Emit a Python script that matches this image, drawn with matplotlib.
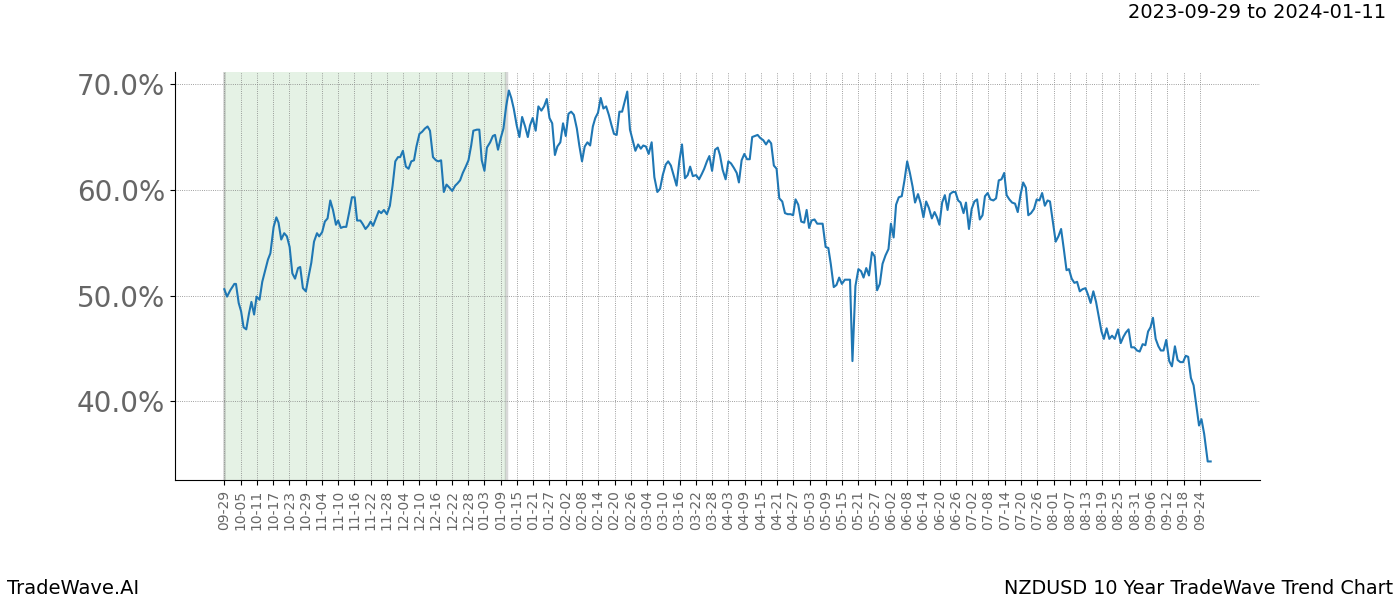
import matplotlib
matplotlib.use('Agg')
import matplotlib.pyplot as plt
from matplotlib.ticker import FuncFormatter

# day index (0 = 2023-09-29) and trend value in percent
days = [
    0.0, 1.0, 2.2, 3.7, 4.3, 5.3, 6.2, 7.1, 8.1, 9.1, 10.0, 11.0, 11.9, 13.0, 14.0, 15.1, 16.1, 17.0,
    18.2, 19.2, 20.0, 21.0, 22.1, 23.1, 24.1, 25.1, 26.1, 27.2, 28.0, 29.0, 30.1, 31.1, 32.1, 33.1,
    34.2, 35.0, 36.1, 37.1, 38.1, 39.1, 40.1, 41.2, 42.0, 43.0, 44.0, 45.0, 46.1, 47.1, 48.1, 49.0,
    50.2, 51.0, 52.1, 53.1, 54.0, 54.9, 56.1, 57.0, 57.9, 58.9, 60.0, 61.1, 62.1, 63.1, 64.1, 64.9,
    65.9, 67.0, 68.0, 69.0, 70.0, 70.9, 72.0, 73.0, 74.0, 75.0, 75.9, 77.0, 78.1, 79.0, 80.0, 81.0,
    82.0, 83.1, 84.1, 85.2, 86.0, 87.0, 88.0, 89.1, 90.1, 91.1, 91.9, 93.2, 94.1, 95.0, 96.0, 96.9,
    98.1, 99.1, 99.9, 101.0, 102.0, 103.0, 104.0, 105.0, 105.9, 106.8, 107.9, 108.9, 109.9, 111.0,
    112.0, 112.8, 113.8, 114.9, 115.9, 117.0, 118.0, 119.0, 120.0, 121.0, 122.0, 122.9, 124.0, 125.0,
    126.0, 127.0, 128.0, 129.0, 130.1, 131.0, 132.0, 133.0, 134.0, 135.0, 136.0, 136.9, 137.9, 138.9,
    139.9, 140.9, 141.9, 142.8, 143.8, 144.8, 145.8, 146.8, 147.8, 148.7, 149.7, 150.7, 151.7, 152.7,
    153.7, 154.6, 155.6, 156.6, 157.7, 158.7, 159.8, 160.8, 161.8, 162.9, 163.8, 164.8, 165.8, 166.9,
    167.9, 168.9, 170.0, 171.0, 171.9, 172.9, 174.1, 175.2, 176.2, 177.1, 178.1, 179.0, 180.0, 181.1,
    182.1, 182.9, 183.9, 185.0, 186.0, 187.0, 188.0, 189.1, 189.9, 190.9, 191.9, 192.9, 193.9, 194.8,
    195.8, 196.8, 197.8, 198.9, 199.9, 200.9, 201.8, 202.8, 203.8, 204.8, 205.9, 206.9, 207.9, 209.0,
    209.9, 210.8, 211.8, 212.9, 214.0, 214.9, 215.8, 216.7, 217.8, 218.8, 219.8, 220.8, 221.9, 222.9,
    223.8, 224.9, 225.9, 226.9, 227.9, 229.0, 230.0, 230.9, 231.8, 232.9, 234.0, 235.0, 235.9, 236.9,
    237.9, 239.0, 240.0, 240.9, 241.9, 242.9, 244.0, 245.1, 246.0, 247.0, 247.9, 248.9, 250.0, 251.0,
    252.0, 253.0, 254.0, 254.9, 256.0, 257.0, 258.0, 259.0, 260.0, 261.1, 262.1, 263.0, 263.9, 264.9,
    265.9, 266.9, 267.8, 268.8, 269.8, 270.8, 271.7, 272.8, 273.7, 274.8, 275.8, 276.8, 277.8, 278.8,
    279.8, 280.7, 281.7, 282.7, 283.8, 284.8, 285.8, 286.8, 287.8, 288.7, 289.7, 290.7, 291.8, 292.8,
    293.8, 294.8, 295.8, 296.7, 297.7, 298.8, 299.8, 300.8, 301.8, 302.8, 303.8, 304.7, 305.7, 306.8,
    307.8, 308.8, 309.8, 310.8, 311.7, 312.7, 313.7, 314.7, 315.7, 316.7, 317.8, 318.7, 319.7, 320.7,
    321.7, 322.7, 323.7, 324.6, 325.6, 326.6, 327.6, 328.6, 329.8, 330.8, 331.8, 332.7, 333.7, 334.7,
    335.8, 336.8, 337.8, 338.9, 339.9, 340.9, 341.8, 342.7, 343.7, 344.7, 345.6, 346.6, 347.6, 348.7,
    349.7, 350.8, 351.8, 352.8, 353.8, 354.8, 355.7, 356.7, 357.7, 358.7, 359.7, 360.6, 361.6, 362.9,
    364.0,
]
values = [
    50.6, 49.9, 50.5, 51.1, 51.1, 49.3, 48.5, 47.0, 46.8, 48.3, 49.4, 48.2, 49.9, 49.6, 51.3, 52.4, 53.4, 54.0,
    56.5, 57.4, 56.9, 55.3, 55.9, 55.6, 54.6, 52.1, 51.6, 52.6, 52.7, 50.7, 50.4, 51.8, 53.1, 55.1,
    55.9, 55.6, 56.0, 57.0, 57.3, 59.0, 58.1, 56.7, 57.1, 56.4, 56.5, 56.5, 57.9, 59.3, 59.3, 57.1,
    57.1, 56.8, 56.3, 56.6, 57.0, 56.6, 57.4, 58.0, 57.8, 58.1, 57.7, 58.5, 60.4, 62.7, 63.1, 63.1,
    63.7, 62.2, 62.0, 62.7, 62.8, 64.1, 65.3, 65.5, 65.8, 66.0, 65.6, 63.1, 62.8, 62.7, 62.8, 59.8,
    60.5, 60.2, 59.9, 60.4, 60.6, 60.9, 61.6, 62.2, 62.8, 64.2, 65.6, 65.7, 65.7, 62.8, 61.8, 64.0,
    64.5, 65.1, 65.2, 63.8, 64.9, 65.8, 67.9, 69.4, 68.7, 67.7, 66.1, 65.0, 66.9, 66.0,
    65.0, 66.1, 66.8, 65.6, 67.9, 67.5, 67.9, 68.6, 66.8, 66.3, 63.3, 64.1, 64.5, 66.3,
    65.1, 67.2, 67.4, 67.1, 65.8, 64.2, 62.7, 64.1, 64.5, 64.2, 66.0, 66.8, 67.3, 68.7,
    67.7, 67.9, 67.1, 66.2, 65.3, 65.2, 67.4, 67.4, 68.4, 69.3, 65.7, 64.7, 63.7, 64.3,
    63.9, 64.2, 64.1, 63.4, 64.5, 61.2, 59.8, 60.1, 61.4, 62.4, 62.7, 62.3, 61.4, 60.4,
    62.7, 64.3, 61.1, 61.4, 62.2, 61.3, 61.4, 61.0, 61.5, 62.0, 62.7, 63.2, 61.8, 63.8,
    64.0, 63.3, 61.9, 61.0, 62.7, 62.5, 62.1, 61.6, 60.7, 62.8, 63.4, 62.9, 62.9, 65.0,
    65.1, 65.2, 64.9, 64.7, 64.3, 64.7, 64.4, 62.3, 62.0, 59.2, 58.9, 57.8, 57.7, 57.7,
    57.6, 59.1, 58.6, 57.0, 56.9, 58.1, 56.4, 57.1, 57.2, 56.8, 56.8, 56.8, 54.6, 54.5,
    53.0, 50.8, 51.0, 51.7, 51.1, 51.5, 51.5, 51.5, 43.8, 50.9, 52.5, 52.3, 51.7, 52.6,
    51.9, 54.1, 53.7, 50.5, 51.1, 53.0, 53.8, 54.4, 56.8, 55.5, 58.6, 59.3, 59.4, 60.9,
    62.7, 61.6, 60.3, 58.8, 59.6, 58.7, 57.4, 58.9, 58.3, 57.3, 57.9, 57.4, 56.7, 58.8,
    59.5, 58.1, 59.6, 59.8, 59.8, 59.0, 58.8, 57.8, 58.8, 56.3, 58.2, 58.9, 59.1, 57.2,
    57.6, 59.4, 59.7, 59.1, 59.0, 59.2, 60.9, 61.0, 61.6, 59.5, 59.1, 58.8, 58.7, 57.9,
    59.5, 60.7, 60.2, 57.6, 57.8, 58.2, 59.1, 59.0, 59.7, 58.5, 59.0, 58.9, 57.1, 55.1,
    55.6, 56.3, 54.4, 52.4, 52.5, 51.6, 51.2, 51.3, 50.4, 50.6, 50.7, 50.1, 49.3, 50.4,
    49.4, 48.0, 46.6, 45.9, 46.9, 45.9, 46.2, 45.9, 46.8, 45.5, 46.1, 46.5, 46.8, 45.1,
    45.1, 44.8, 44.7, 45.4, 45.3, 46.6, 47.0, 47.9, 45.9, 45.2, 44.8, 44.8, 45.8, 43.8,
    43.3, 45.2, 43.9, 43.7, 43.7, 44.3, 44.2, 42.2, 41.5, 39.6, 37.7, 38.3, 36.9, 34.3,
    34.3,
]

tick_labels = [
    '09-29', '10-05', '10-11', '10-17', '10-23', '10-29', '11-04', '11-10', '11-16', '11-22',
    '11-28', '12-04', '12-10', '12-16', '12-22', '12-28', '01-03', '01-09', '01-15', '01-21',
    '01-27', '02-02', '02-08', '02-14', '02-20', '02-26', '03-04', '03-10', '03-16', '03-22',
    '03-28', '04-03', '04-09', '04-15', '04-21', '04-27', '05-03', '05-09', '05-15', '05-21',
    '05-27', '06-02', '06-08', '06-14', '06-20', '06-26', '07-02', '07-08', '07-14', '07-20',
    '07-26', '08-01', '08-07', '08-13', '08-19', '08-25', '08-31', '09-06', '09-12', '09-18',
    '09-24',
]
tick_step = 6
span_start, span_end = 0, 104

fig, ax = plt.subplots(figsize=(14, 6), dpi=100)
fig.subplots_adjust(left=0.125, right=0.9, top=0.88, bottom=0.2)

ax.axvspan(span_start, span_end, color='green', alpha=0.1, lw=0)
ax.axvline(span_start, color='gray', alpha=0.3, lw=2)
ax.axvline(span_end, color='gray', alpha=0.3, lw=2.5)
ax.plot(days, values, color='#1f77b4', lw=1.5)

ax.set_xticks([i * tick_step for i in range(len(tick_labels))])
ax.set_xticklabels(tick_labels, rotation=90, fontsize=10, color='#666666')
ax.set_yticks([40, 50, 60, 70])
ax.yaxis.set_major_formatter(FuncFormatter(lambda v, p: '{0:.1f}%'.format(v)))
ax.tick_params(axis='y', labelsize=20, labelcolor='#666666')

ax.grid(True, color='gray', linestyle=':', linewidth=0.6)
ax.spines['top'].set_visible(False)
ax.spines['right'].set_visible(False)

fig.text(0.99, 0.995, '2023-09-29 to 2024-01-11', ha='right', va='top', fontsize=14)
fig.text(0.005, 0.02, 'TradeWave.AI', ha='left', va='center', fontsize=14)
fig.text(0.995, 0.02, 'NZDUSD 10 Year TradeWave Trend Chart', ha='right', va='center', fontsize=13.75)

fig.savefig('out.png')
